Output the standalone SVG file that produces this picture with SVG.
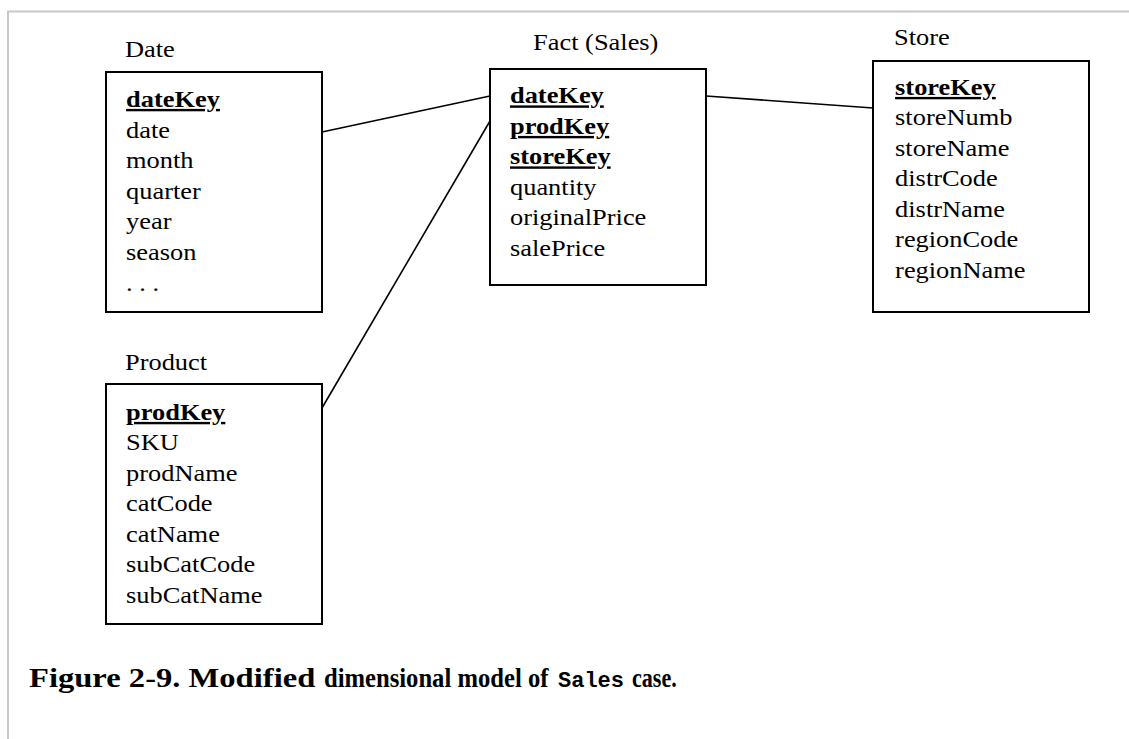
<svg xmlns="http://www.w3.org/2000/svg" width="1129" height="739" viewBox="0 0 1129 739">
<style>
.frame{stroke:#c8c8c8;stroke-width:2;fill:none}
.box{fill:#fff;stroke:#000;stroke-width:2}
.t{font-family:"Liberation Serif","Times New Roman",serif;font-size:24px;fill:#000}
.k{font-weight:bold;text-decoration:underline}
.conn line{stroke:#000;stroke-width:1.6}
.cap{font-family:"Liberation Serif","Times New Roman",serif;font-size:28px;font-weight:bold;fill:#000}
.mono{font-family:"Liberation Mono","Courier New",monospace;font-size:22px;font-weight:bold;fill:#000}
</style>
<rect width="1129" height="739" fill="#fff"/>
<path class="frame" d="M8 739 V11.5 H1129"/>
<g id="connectors" class="conn">
<line x1="322" y1="132" x2="490" y2="96"/>
<line x1="322" y1="408" x2="490" y2="121"/>
<line x1="706" y1="96" x2="873" y2="108"/>
</g>
<g id="date">
<rect class="box" x="106" y="72" width="216" height="240"/>
<g class="t" transform="translate(125 0) scale(1.1 1)">
<text x="0" y="57.5">Date</text>
<text x="1" y="107" class="k">dateKey</text>
<text x="1" y="137.6">date</text>
<text x="1" y="168.2">month</text>
<text x="1" y="198.8">quarter</text>
<text x="1" y="229.4">year</text>
<text x="1" y="260">season</text>
<text x="1" y="290.6">. . .</text>
</g>
</g>
<g id="fact">
<rect class="box" x="490" y="69" width="216" height="216"/>
<g class="t" transform="translate(510 0) scale(1.1 1)">
<text x="21" y="50">Fact (Sales)</text>
<text x="0" y="103.5" class="k">dateKey</text>
<text x="0" y="134" class="k">prodKey</text>
<text x="0" y="164.5" class="k">storeKey</text>
<text x="0" y="195">quantity</text>
<text x="0" y="225.5">originalPrice</text>
<text x="0" y="256">salePrice</text>
</g>
</g>
<g id="store">
<rect class="box" x="873" y="61" width="216" height="251"/>
<g class="t" transform="translate(894 0) scale(1.1 1)">
<text x="0" y="45">Store</text>
<text x="1" y="95" class="k">storeKey</text>
<text x="1" y="125.5">storeNumb</text>
<text x="1" y="156">storeName</text>
<text x="1" y="186.5">distrCode</text>
<text x="1" y="217">distrName</text>
<text x="1" y="247.5">regionCode</text>
<text x="1" y="278">regionName</text>
</g>
</g>
<g id="product">
<rect class="box" x="106" y="384" width="216" height="240"/>
<g class="t" transform="translate(125 0) scale(1.1 1)">
<text x="0" y="370">Product</text>
<text x="1" y="420" class="k">prodKey</text>
<text x="1" y="450.5">SKU</text>
<text x="1" y="481">prodName</text>
<text x="1" y="511.5">catCode</text>
<text x="1" y="542">catName</text>
<text x="1" y="572.5">subCatCode</text>
<text x="1" y="603">subCatName</text>
</g>
</g>
<g id="caption">
<text class="cap" transform="translate(29 687) scale(1.164 1)">Figure 2-9. Modified</text>
<text class="cap" transform="translate(324 687) scale(0.88 1)">dimensional model of</text>
<text class="mono" x="558" y="687">Sales</text>
<text class="cap" transform="translate(632 687) scale(0.79 1)">case.</text>
</g>
</svg>
